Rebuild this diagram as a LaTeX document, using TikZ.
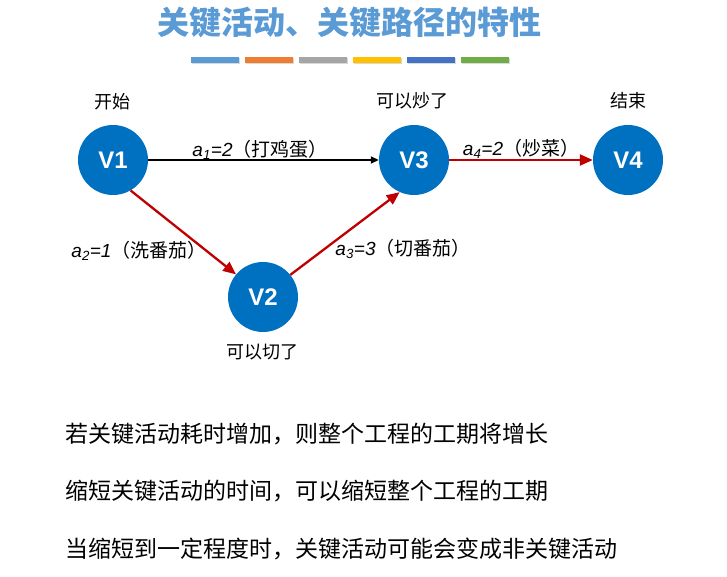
\documentclass[tikz,border=0pt]{standalone}
\usepackage{fontspec}
\setmainfont{Liberation Sans}
\newfontfamily\cjk{Noto Sans CJK SC}
\usetikzlibrary{arrows.meta,shadows}

\definecolor{nodeblue}{RGB}{0,112,192}
\definecolor{titleblue}{RGB}{91,155,213}
\definecolor{critred}{RGB}{192,0,0}
\definecolor{barblue}{RGB}{91,155,213}
\definecolor{barorange}{RGB}{237,125,49}
\definecolor{bargray}{RGB}{165,165,165}
\definecolor{baryellow}{RGB}{255,192,0}
\definecolor{bardarkblue}{RGB}{68,114,196}
\definecolor{bargreen}{RGB}{112,173,71}

\tikzset{
  vertex/.style={circle,fill=nodeblue,minimum size=70pt,inner sep=0pt,text=white,
    font=\fontsize{24}{24}\selectfont\bfseries},
  tag/.style={font=\cjk\fontsize{18}{18}\selectfont},
  act/.style={font=\fontsize{19}{19}\selectfont},
  crit/.style={draw=critred,line width=2.3pt,-{Triangle[length=13pt,width=11pt]}},
  plain/.style={draw=black,line width=1.6pt,-{Triangle[length=8pt,width=7pt]}},
  bar/.style={minimum width=48pt,minimum height=6pt,inner sep=0pt,
    drop shadow={shadow xshift=1pt,shadow yshift=-1.5pt,opacity=0.3}},
  note/.style={anchor=west,font=\cjk\fontsize{23}{23}\selectfont}
}

\begin{document}
\begin{tikzpicture}[x=1pt,y=-1pt]
\useasboundingbox (0,0) rectangle (727,577);

\node[font=\cjk\bfseries\fontsize{32}{32}\selectfont,text=titleblue] (title) at (349,23) {关键活动、关键路径的特性};

\node[bar,fill=barblue] (bar1) at (215,60) {};
\node[bar,fill=barorange] (bar2) at (269,60) {};
\node[bar,fill=bargray] (bar3) at (323,60) {};
\node[bar,fill=baryellow] (bar4) at (377,60) {};
\node[bar,fill=bardarkblue] (bar5) at (431,60) {};
\node[bar,fill=bargreen] (bar6) at (485,60) {};

\node[vertex] (V1) at (113,160) {V1};
\node[vertex] (V2) at (263,297) {V2};
\node[vertex] (V3) at (414,160) {V3};
\node[vertex] (V4) at (628,160) {V4};

\node[tag] (t1) at (112,102) {开始};
\node[tag] (t2) at (262,352) {可以切了};
\node[tag] (t3) at (412,101) {可以炒了};
\node[tag] (t4) at (628,101) {结束};

\draw[plain] (V1) -- (V3);
\draw[crit] (V1.-60) -- (V2.140);
\draw[crit] (V2.39) -- (V3.-114);
\draw[crit] (V3) -- (V4);

\node[act] (a1) at (260,150) {\textit{a\textsubscript{1}=2}{\cjk （打鸡蛋）}};
\node[act] (a2) at (139,251) {\textit{a\textsubscript{2}=1}{\cjk （洗番茄）}};
\node[act] (a3) at (403,249) {\textit{a\textsubscript{3}=3}{\cjk （切番茄）}};
\node[act] (a4) at (521,149) {\textit{a\textsubscript{4}=2}{\cjk （炒菜）}};

\node[note] (n1) at (62,434) {若关键活动耗时增加，则整个工程的工期将增长};
\node[note] (n2) at (62,491) {缩短关键活动的时间，可以缩短整个工程的工期};
\node[note] (n3) at (62,549) {当缩短到一定程度时，关键活动可能会变成非关键活动};
\end{tikzpicture}
\end{document}
